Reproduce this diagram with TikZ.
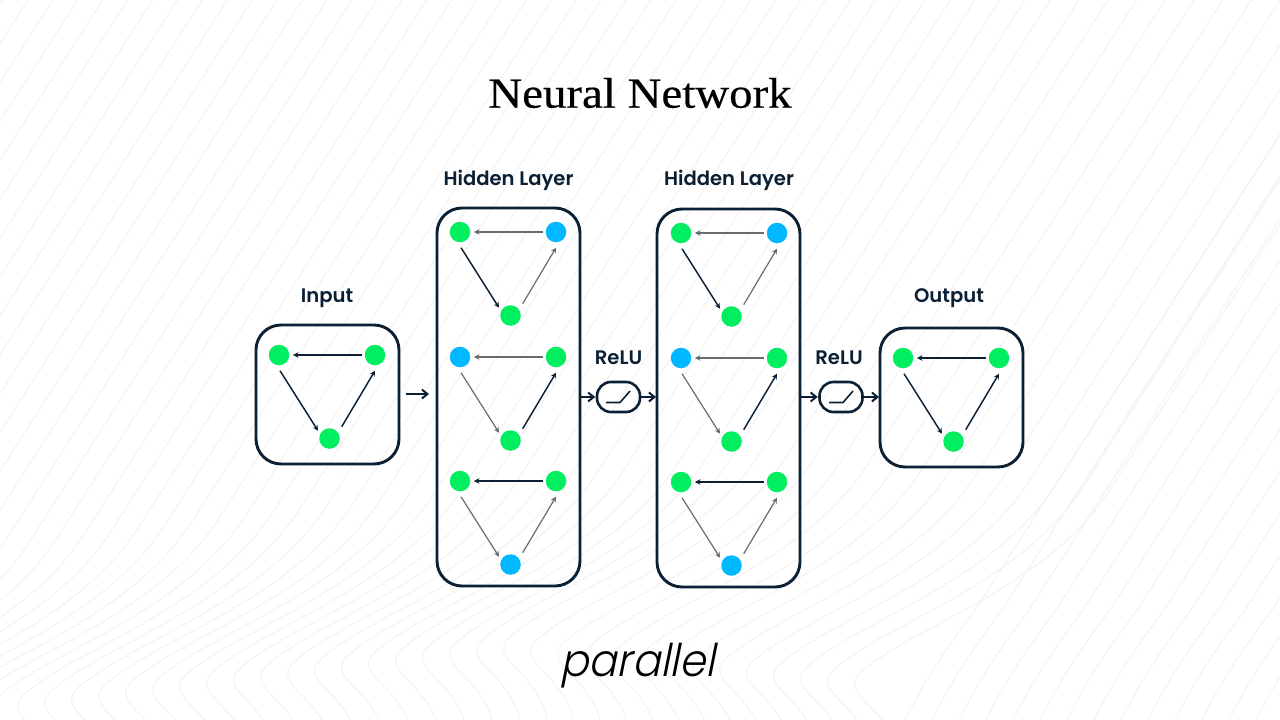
\documentclass[tikz,border=0pt]{standalone}
\usepackage{fontspec}
\setmainfont{Poppins}
\newfontfamily\titlefont[FakeBold=0.35]{Liberation Serif}
\newfontfamily\logofont{Poppins Light}
\newfontfamily\hdrfont{Poppins SemiBold}
\usetikzlibrary{arrows.meta}
\definecolor{navy}{HTML}{0B2035}
\definecolor{dotgreen}{HTML}{00EE60}
\definecolor{dotblue}{HTML}{00B8FF}
\definecolor{greyedge}{HTML}{666C72}
\definecolor{bgline}{HTML}{F3F3F3}
\tikzset{
  panel/.style={draw=navy,line width=2.9pt,rounded corners=25pt,fill=none},
  gdot/.style={circle,fill=dotgreen,minimum size=20.5pt,inner sep=0pt},
  bdot/.style={circle,fill=dotblue,minimum size=20.5pt,inner sep=0pt},
  dark/.style={draw=navy,line width=1.45pt,-{Stealth[length=5.5pt,width=5.5pt]}},
  grey/.style={draw=greyedge,line width=1.2pt,-{Stealth[length=5.5pt,width=5.5pt]}},
  hdr/.style={text=navy,font=\hdrfont\fontsize{19.6}{22}\selectfont},
  flow/.style={draw=navy,line width=2pt,-{Straight Barb[length=5.5pt,width=9pt]}},
  pill/.style={draw=navy,line width=2.6pt,rounded corners=14pt,minimum width=43pt,minimum height=30pt,inner sep=0pt},
  ramp/.style={navy,line width=1.6pt},
  bgl/.style={draw=bgline,line width=1.1pt},
}
\newcommand{\tri}[9]{%
  \node[#4] (#1a) at (#2,#3) {};
  \node[#5] (#1b) at (#2+96,#3) {};
  \node[#6] (#1c) at (#2+50.5,#3+83.5) {};
  \draw[#7] ([xshift=-2.5pt]#1b.west) -- ([xshift=3.5pt]#1a.east);
  \draw[#8] ([shift={(1,15.7)}]#1a.center) -- ([shift={(-11.5,-7.8)}]#1c.center);
  \draw[#9] ([shift={(12.2,-11.8)}]#1c.center) -- ([shift={(0,15.7)}]#1b.center);
}
\begin{document}
\begin{tikzpicture}[x=1pt,y=-1pt]
\useasboundingbox (0,0) rectangle (1280,720);
\fill[white] (0,0) rectangle (1280,720);
% background contour lines
\begin{scope}
\clip (0,0) rectangle (1280,720);
\foreach \j in {-26,...,30}{
  \pgfmathsetmacro{\tx}{45+27*\j}
  \pgfmathsetmacro{\ty}{702-0.12*\tx+0.22*max(\tx-500,0)}
  \pgfmathsetmacro{\bx}{\tx+255}
  \pgfmathsetmacro{\by}{\ty-188}
  \pgfmathsetmacro{\topx}{\bx+\by/1.56}
  \draw[bgl] (\topx,0) -- (\bx,\by)
    .. controls (\bx-60,\by+94) and (\tx+70,\ty-55) .. (\tx+14,\ty-12)
    .. controls (\tx+2,\ty-3) and (\tx-3,\ty+3) .. (\tx+1,\ty+12)
    .. controls (\tx+6,\ty+22) and (\tx+18,\ty+30) .. (\tx+28,\ty+44)
    .. controls (\tx+38,\ty+58) and (\tx+46,\ty+72) .. (\tx+42,\ty+95);
}
\foreach \m in {0,...,16}{
  \pgfmathsetmacro{\xb}{905+27*\m}
  \draw[bgl] (\xb,720) .. controls (\xb+20,680) and (\xb+40,650) .. (\xb+70,610) -- (\xb+70+610/1.56,0);
}
\end{scope}
% title
\node[font=\titlefont\fontsize{43}{46}\selectfont,text=black,xscale=1.09] (title) at (640,93) {Neural Network};
% panels
\draw[panel] (256,325) rectangle (399,464);
\draw[panel] (437,208) rectangle (580,586);
\draw[panel] (657,209) rectangle (800,587);
\draw[panel] (880,328) rectangle (1023,467);
% labels
\node[hdr] (l1) at (327,298) {Input};
\node[hdr] (l2) at (508.5,180) {Hidden Layer};
\node[hdr] (l3) at (729,180) {Hidden Layer};
\node[hdr] (l4) at (949,298) {Output};
\node[hdr] (r1) at (618.5,358) {ReLU};
\node[hdr] (r2) at (839,358) {ReLU};
% triangles
\tri{i}{279}{355}{gdot}{gdot}{gdot}{dark}{dark}{dark}
\tri{aa}{460}{232}{gdot}{bdot}{gdot}{grey}{dark}{grey}
\tri{ab}{460}{357}{bdot}{gdot}{gdot}{grey}{grey}{dark}
\tri{ac}{460}{481}{gdot}{gdot}{bdot}{dark}{grey}{grey}
\tri{ba}{681}{233}{gdot}{bdot}{gdot}{grey}{dark}{grey}
\tri{bb}{681}{358}{bdot}{gdot}{gdot}{grey}{grey}{dark}
\tri{bc}{681}{482}{gdot}{gdot}{bdot}{dark}{grey}{grey}
\tri{o}{903}{358}{gdot}{gdot}{gdot}{dark}{dark}{dark}
% ReLU pills
\node[pill] (p1) at (618.5,397) {};
\node[pill] (p2) at (841,397) {};
\draw[ramp] (606,402.5) -- (620,402.5) -- (630,391);
\draw[ramp] (829,402.5) -- (843,402.5) -- (853,391);
% flow arrows
\coordinate (f1) at (406,394);
\coordinate (f2) at (429,394);
\draw[flow] (f1) -- (f2);
\coordinate (a1r) at (581,397);
\draw[flow] (a1r) -- ([xshift=-0.5pt]p1.west);
\coordinate (a2l) at (656,397);
\draw[flow] (p1.east) -- (a2l);
\coordinate (a2r) at (801,397);
\draw[flow] (a2r) -- ([xshift=-0.5pt]p2.west);
\coordinate (a3l) at (879,397);
\draw[flow] (p2.east) -- (a3l);
% logo
\node[font=\logofont\fontsize{45}{48}\selectfont,text=black,xslant=0.2,xscale=0.93] (logo) at (640,666) {parallel};
\end{tikzpicture}
\end{document}
